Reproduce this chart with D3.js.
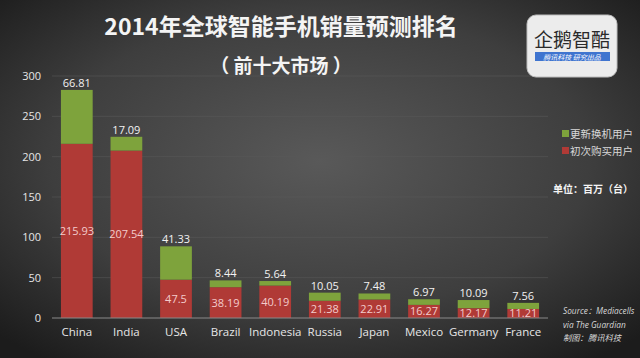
<!DOCTYPE html>
<html><head><meta charset="utf-8">
<script src="https://cdn.jsdelivr.net/npm/d3@7"></script>
<style>
html,body{margin:0;padding:0;background:#2a2a2a;}
svg{display:block;}
</style></head>
<body>
<svg id="chart" width="640" height="358"></svg>
<script>
const categories = ["China","India","USA","Brazil","Indonesia","Russia","Japan","Mexico","Germany","France"];
const firstBuy = [215.93,207.54,47.5,38.19,40.19,21.38,22.91,16.27,12.17,11.21];
const upgrade = [66.81,17.09,41.33,8.44,5.64,10.05,7.48,6.97,10.09,7.56];
const yTicks = [0,50,100,150,200,250,300];
const seriesNames = ["更新换机用户","初次购买用户"];

const W=640,H=358;
const svg=d3.select("#chart");
const defs=svg.append("defs");
const rg=defs.append("radialGradient").attr("id","bg").attr("cx","50%").attr("cy","45%").attr("r","70%");
rg.append("stop").attr("offset","0%").attr("stop-color","#595959");
rg.append("stop").attr("offset","60%").attr("stop-color","#3e3e3e");
rg.append("stop").attr("offset","100%").attr("stop-color","#1c1c1c");
svg.append("rect").attr("width",W).attr("height",H).attr("fill","url(#bg)");

const cjk='"Noto Sans CJK SC","Microsoft YaHei",sans-serif';
const lat='"Open Sans","Noto Sans","Noto Sans CJK SC",sans-serif';

const x=d3.scaleBand().domain(categories).range([52,548]).paddingInner(0.36).paddingOuter(0.18);
const y=d3.scaleLinear().domain([0,300]).range([318,76]);

// grid
svg.append("g").selectAll("line").data(yTicks.slice(1)).join("line")
  .attr("x1",52).attr("x2",548).attr("y1",d=>y(d)).attr("y2",d=>y(d))
  .attr("stroke","#5a5a5a").attr("stroke-width",0.8).attr("opacity",0.7);

// y axis
const ya=svg.append("g").attr("transform","translate(52,0)").call(d3.axisLeft(y).tickValues(yTicks).tickSize(0).tickPadding(11));
ya.select(".domain").remove();
ya.selectAll("text").attr("fill","#e6e6e6").attr("font-family",lat).attr("font-size",11);

// bars
const bars=svg.append("g");
bars.selectAll("rect.r").data(categories).join("rect").attr("class","r")
  .attr("x",d=>x(d)).attr("width",x.bandwidth())
  .attr("y",(d,i)=>y(firstBuy[i])).attr("height",(d,i)=>y(0)-y(firstBuy[i]))
  .attr("fill","#b03a36");
bars.selectAll("rect.g").data(categories).join("rect").attr("class","g")
  .attr("x",d=>x(d)).attr("width",x.bandwidth())
  .attr("y",(d,i)=>y(firstBuy[i]+upgrade[i])).attr("height",(d,i)=>y(firstBuy[i])-y(firstBuy[i]+upgrade[i]))
  .attr("fill","#7ea33c");

// x axis line
svg.append("line").attr("x1",52).attr("x2",548).attr("y1",y(0)).attr("y2",y(0)).attr("stroke","#8a8a8a").attr("stroke-width",1);
const xa=svg.append("g").attr("transform",`translate(0,${y(0)})`).call(d3.axisBottom(x).tickSize(0).tickPadding(10));
xa.select(".domain").remove();
xa.selectAll("text").attr("fill","#e6e6e6").attr("font-family",lat).attr("font-size",11.5);

// labels
svg.append("g").selectAll("text").data(categories).join("text")
  .attr("x",d=>x(d)+x.bandwidth()/2).attr("y",(d,i)=>y(firstBuy[i]+upgrade[i])-3)
  .attr("text-anchor","middle").attr("fill","#f2f2f2").attr("font-family",lat).attr("font-size",11)
  .text((d,i)=>upgrade[i]);
svg.append("g").selectAll("text").data(categories).join("text")
  .attr("x",d=>x(d)+x.bandwidth()/2).attr("y",(d,i)=>(y(firstBuy[i])+y(0))/2+4)
  .attr("text-anchor","middle").attr("fill","#f3cccc").attr("font-family",lat).attr("font-size",11)
  .text((d,i)=>firstBuy[i]);

// title
svg.append("text").attr("x",281).attr("y",35).attr("text-anchor","middle").attr("fill","#f4f4f4")
  .attr("font-family",cjk).attr("font-weight","bold").attr("font-size",23).text("2014年全球智能手机销量预测排名");
svg.append("text").attr("x",281).attr("y",73).attr("text-anchor","middle").attr("fill","#f4f4f4")
  .attr("font-family",cjk).attr("font-weight","bold").attr("font-size",19).text("（ 前十大市场 ）");

// logo
const lg=svg.append("g");
lg.append("rect").attr("x",527).attr("y",15).attr("width",90).attr("height",62).attr("rx",9).attr("fill","#ececec").attr("stroke","#bdbdbd");
lg.append("text").attr("x",572).attr("y",47).attr("text-anchor","middle").attr("fill","#2a2a2a").attr("font-family",cjk).attr("font-size",19).text("企鹅智酷");
lg.append("rect").attr("x",535).attr("y",52).attr("width",75).attr("height",9).attr("fill","#3f74cf");
lg.append("text").attr("x",572).attr("y",59.5).attr("text-anchor","middle").attr("fill","#fff").attr("font-family",cjk).attr("font-size",7).attr("font-style","italic").text("腾讯科技  研究出品");

// legend
const leg=svg.append("g");
const legColors=["#7ea33c","#b03a36"];
seriesNames.forEach((n,i)=>{
  leg.append("rect").attr("x",562).attr("y",130+i*17).attr("width",7).attr("height",7).attr("fill",legColors[i]);
  leg.append("text").attr("x",570).attr("y",137.5+i*17).attr("fill","#d8d8d8").attr("font-family",cjk).attr("font-size",10.5).text(n);
});
svg.append("text").attr("x",553).attr("y",193).attr("fill","#f4f4f4").attr("font-family",cjk).attr("font-weight","bold").attr("font-size",10).text("单位：百万（台）");

// source
const src=["Source：Mediacells","via The Guardian","制图：腾讯科技"];
svg.append("g").selectAll("text").data(src).join("text")
  .attr("x",563).attr("y",(d,i)=>314+i*13.5).attr("fill","#d8d8d8").attr("font-family",lat)
  .attr("font-style","italic").attr("font-size",8.3).text(d=>d);
</script>
</body></html>
